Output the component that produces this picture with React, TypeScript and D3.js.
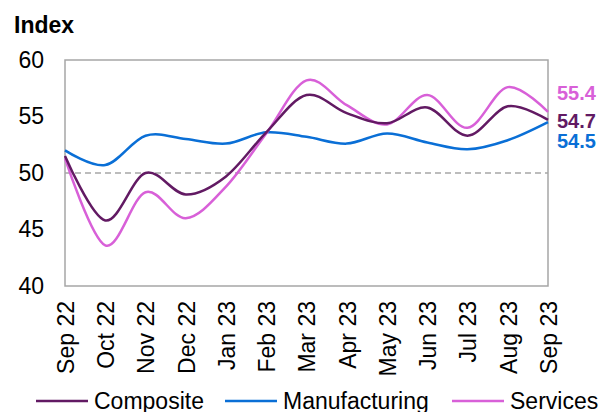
import { useEffect, useRef } from "react";
import * as d3 from "d3";

// Monthly PMI readings, Sep 22 - Sep 23
const months = ["Sep 22", "Oct 22", "Nov 22", "Dec 22", "Jan 23", "Feb 23", "Mar 23", "Apr 23", "May 23", "Jun 23", "Jul 23", "Aug 23", "Sep 23"];
const composite = [51.5, 45.8, 50.0, 48.1, 49.7, 53.6, 56.9, 55.3, 54.4, 55.8, 53.3, 55.9, 54.7];
const manufacturing = [52.0, 50.7, 53.3, 53.0, 52.6, 53.6, 53.2, 52.6, 53.5, 52.7, 52.1, 52.9, 54.5];
const services = [51.3, 43.6, 48.3, 46.0, 48.8, 53.5, 58.2, 56.0, 54.3, 56.9, 54.0, 57.6, 55.4];
const yTicks = [40, 45, 50, 55, 60];
const seriesNames = ["Composite", "Manufacturing", "Services"];

const colors = ["#621a63", "#0a6fd6", "#d860d8"];
const FONT = "'Liberation Sans', Arial, sans-serif";

export default function App() {
  const ref = useRef<SVGSVGElement>(null);

  useEffect(() => {
    if (!ref.current) return;
    const svg = d3.select(ref.current);
    svg.selectAll("*").remove();

    const width = 602;
    const height = 412;
    const margin = { top: 60, right: 54, bottom: 126, left: 65 };

    const x = d3.scalePoint<string>()
      .domain(months)
      .range([margin.left, width - margin.right]);

    const y = d3.scaleLinear()
      .domain([40, 60])
      .range([height - margin.bottom, margin.top]);

    // plot frame
    svg.append("rect")
      .attr("x", margin.left)
      .attr("y", margin.top)
      .attr("width", width - margin.left - margin.right)
      .attr("height", height - margin.top - margin.bottom)
      .attr("fill", "none")
      .attr("stroke", "#a6a6a6")
      .attr("stroke-width", 1.5);

    // 50 reference line
    svg.append("line")
      .attr("x1", margin.left)
      .attr("x2", width - margin.right)
      .attr("y1", y(50))
      .attr("y2", y(50))
      .attr("stroke", "#a6a6a6")
      .attr("stroke-width", 1.5)
      .attr("stroke-dasharray", "6,4");

    // y axis
    const yAxis = svg.append("g")
      .attr("transform", `translate(${margin.left},0)`)
      .call(d3.axisLeft(y).tickValues(yTicks).tickSize(0).tickPadding(21));
    yAxis.select(".domain").remove();
    yAxis.selectAll("text")
      .attr("font-family", FONT)
      .attr("font-size", 23)
      .attr("fill", "#000");

    // x axis with rotated month labels
    const xAxis = svg.append("g")
      .attr("transform", `translate(0,${height - margin.bottom})`)
      .call(d3.axisBottom(x).tickSize(0));
    xAxis.select(".domain").remove();
    xAxis.selectAll("text")
      .attr("transform", "rotate(-90)")
      .attr("x", -15)
      .attr("y", 0)
      .attr("dy", "0.36em")
      .style("text-anchor", "end")
      .attr("font-family", FONT)
      .attr("font-size", 23)
      .attr("fill", "#000");

    // y axis title
    svg.append("text")
      .attr("x", 14)
      .attr("y", 33)
      .attr("font-family", FONT)
      .attr("font-size", 23)
      .attr("font-weight", "bold")
      .text("Index");

    const line = d3.line<number>()
      .x((_, i) => x(months[i])!)
      .y(d => y(d))
      .curve(d3.curveCatmullRom.alpha(0));

    const allSeries = [composite, manufacturing, services];
    // manufacturing first, then services, composite on top
    [1, 2, 0].forEach(i => {
      svg.append("path")
        .datum(allSeries[i])
        .attr("d", line)
        .attr("fill", "none")
        .attr("stroke", colors[i])
        .attr("stroke-width", 2.5);
    });

    // end-of-line value labels
    const labelY = [121, 141, 93];
    allSeries.forEach((s, i) => {
      svg.append("text")
        .attr("x", width - margin.right + 9)
        .attr("y", labelY[i])
        .attr("dy", "0.36em")
        .attr("font-family", FONT)
        .attr("font-size", 20)
        .attr("font-weight", "bold")
        .attr("fill", colors[i])
        .text(s[s.length - 1].toFixed(1));
    });

    // legend
    const legendX = [36, 225, 452];
    const legend = svg.append("g").attr("transform", "translate(0,401)");
    seriesNames.forEach((name, i) => {
      legend.append("line")
        .attr("x1", legendX[i])
        .attr("x2", legendX[i] + 52)
        .attr("stroke", colors[i])
        .attr("stroke-width", 2.5);
      legend.append("text")
        .attr("x", legendX[i] + 58)
        .attr("dy", "0.36em")
        .attr("font-family", FONT)
        .attr("font-size", 23)
        .attr("fill", "#000")
        .text(name);
    });
  }, []);

  return (
    <>
      <style>{`body{margin:0}`}</style>
      <svg ref={ref} width={602} height={412} style={{ display: "block", background: "#fff" }} />
    </>
  );
}
